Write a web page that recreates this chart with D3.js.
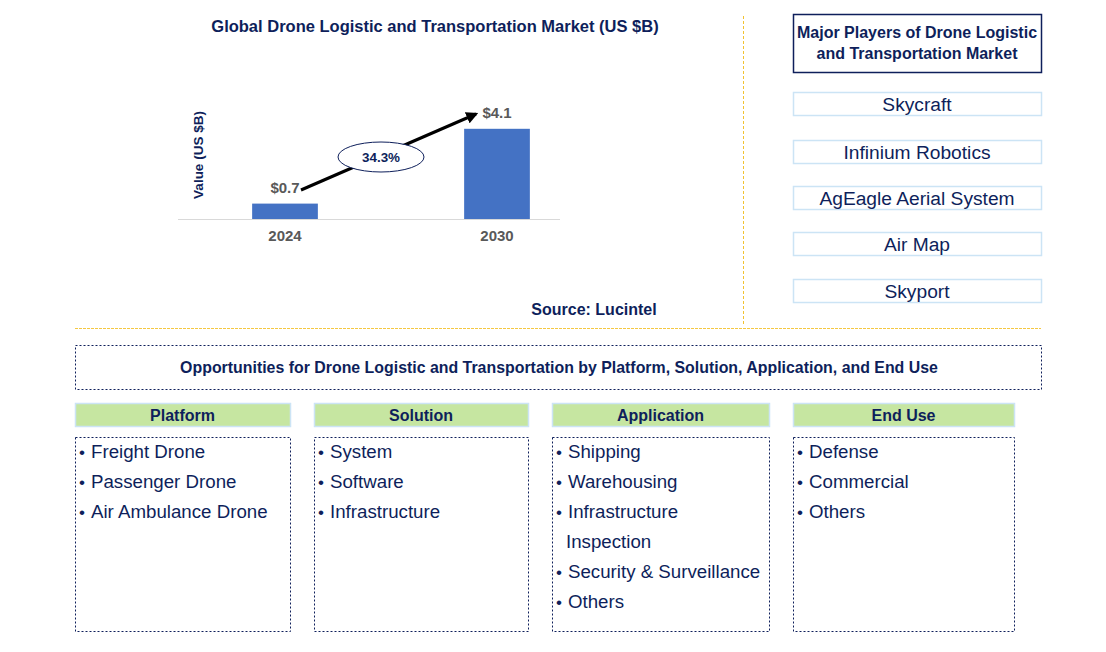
<!DOCTYPE html>
<html><head><meta charset="utf-8">
<script src="https://cdn.jsdelivr.net/npm/d3@7"></script>
<style>
html,body{margin:0;padding:0;background:#fff;}
svg{display:block;font-family:"Liberation Sans",Arial,sans-serif;}
</style></head>
<body>
<svg id="c" width="1106" height="652"></svg>
<script>
const years = ["2024", "2030"];
const values = [0.7, 4.1];
const valueLabels = ["$0.7", "$4.1"];
const cagr = "34.3%";
const players = ["Skycraft", "Infinium Robotics", "AgEagle Aerial System", "Air Map", "Skyport"];
const segments = ["Platform", "Solution", "Application", "End Use"];
const segmentItems = [
  ["Freight Drone", "Passenger Drone", "Air Ambulance Drone"],
  ["System", "Software", "Infrastructure"],
  ["Shipping", "Warehousing", ["Infrastructure", "Inspection"], "Security & Surveillance", "Others"],
  ["Defense", "Commercial", "Others"]
];

const navy = "#0E1F5B";
const gray = "#595959";
const svg = d3.select("#c");

// Title
svg.append("text").attr("x", 435).attr("y", 32).attr("text-anchor", "middle")
  .attr("font-size", 16.5).attr("font-weight", "bold").attr("fill", navy)
  .text("Global Drone Logistic and Transportation Market (US $B)");

// Chart
const x = d3.scaleBand().domain(years).range([179, 603]).paddingInner(0.69).paddingOuter(0.345);
const y = d3.scaleLinear().domain([0, 5]).range([219, 109]);

svg.append("g").selectAll("rect").data(values).join("rect")
  .attr("x", (d, i) => x(years[i])).attr("width", x.bandwidth())
  .attr("y", d => y(d)).attr("height", d => y(0) - y(d)).attr("fill", "#4472C4");

const xAxis = svg.append("g").attr("transform", `translate(0,${y(0)})`)
  .call(d3.axisBottom(x).tickSize(0).tickPadding(11));
xAxis.select(".domain").attr("stroke", "#D9D9D9").attr("d", "M178,0.5H560");
xAxis.selectAll("text").attr("font-size", 15).attr("font-weight", "bold").attr("fill", gray)
  .attr("font-family", "Liberation Sans, Arial, sans-serif");

svg.append("g").selectAll("text").data(values).join("text")
  .attr("x", (d, i) => x(years[i]) + x.bandwidth() / 2)
  .attr("y", d => y(d) - 11).attr("text-anchor", "middle")
  .attr("font-size", 15).attr("font-weight", "bold").attr("fill", gray)
  .text((d, i) => valueLabels[i]);

svg.append("text").attr("transform", "translate(203,155) rotate(-90)").attr("text-anchor", "middle")
  .attr("font-size", 13.5).attr("font-weight", "bold").attr("fill", navy).text("Value (US $B)");

// Arrow
svg.append("defs").append("marker").attr("id", "ah").attr("viewBox", "0 0 10 10")
  .attr("refX", 8).attr("refY", 5).attr("markerWidth", 4).attr("markerHeight", 4)
  .attr("orient", "auto").append("path").attr("d", "M0,0L10,5L0,10z").attr("fill", "#000");
svg.append("line").attr("x1", 301).attr("y1", 190).attr("x2", 476).attr("y2", 114)
  .attr("stroke", "#000").attr("stroke-width", 3).attr("marker-end", "url(#ah)");
svg.append("ellipse").attr("cx", 381).attr("cy", 157).attr("rx", 43).attr("ry", 15)
  .attr("fill", "#fff").attr("stroke", navy).attr("stroke-width", 1);
svg.append("text").attr("x", 381).attr("y", 162).attr("text-anchor", "middle")
  .attr("font-size", 13.4).attr("font-weight", "bold").attr("fill", navy).text(cagr);

svg.append("text").attr("x", 594).attr("y", 315).attr("text-anchor", "middle")
  .attr("font-size", 16).attr("font-weight", "bold").attr("fill", navy).text("Source: Lucintel");

// Dividers
svg.append("line").attr("x1", 743.5).attr("x2", 743.5).attr("y1", 16).attr("y2", 326)
  .attr("stroke", "#F2C230").attr("stroke-width", 1).attr("stroke-dasharray", "3,2");
svg.append("line").attr("x1", 75).attr("x2", 1041).attr("y1", 328.5).attr("y2", 328.5)
  .attr("stroke", "#F5C842").attr("stroke-width", 1).attr("stroke-dasharray", "3,1");

// Major players
svg.append("rect").attr("x", 793.5).attr("y", 14.5).attr("width", 248).attr("height", 58)
  .attr("fill", "#fff").attr("stroke", navy).attr("stroke-width", 1.5);
svg.append("text").attr("x", 917).attr("y", 38).attr("text-anchor", "middle")
  .attr("font-size", 16).attr("font-weight", "bold").attr("fill", navy).text("Major Players of Drone Logistic");
svg.append("text").attr("x", 917).attr("y", 59).attr("text-anchor", "middle")
  .attr("font-size", 16).attr("font-weight", "bold").attr("fill", navy).text("and Transportation Market");

const pc = [104, 152, 198, 244, 291];
const pg = svg.append("g").selectAll("g").data(players).join("g");
pg.append("rect").attr("x", 793.5).attr("y", (d, i) => pc[i] - 11.5).attr("width", 248).attr("height", 23)
  .attr("fill", "#fff").attr("stroke", "#CCE4F5").attr("stroke-width", 1.5);
pg.append("text").attr("x", 917).attr("y", (d, i) => pc[i] + 7).attr("text-anchor", "middle")
  .attr("font-size", 19.2).attr("fill", navy).text(d => d);

// Opportunities
svg.append("rect").attr("x", 75.5).attr("y", 345.5).attr("width", 966).attr("height", 44)
  .attr("fill", "none").attr("stroke", navy).attr("stroke-width", 1).attr("stroke-dasharray", "2,2");
svg.append("text").attr("x", 559).attr("y", 373).attr("text-anchor", "middle")
  .attr("font-size", 15.9).attr("font-weight", "bold").attr("fill", navy)
  .text("Opportunities for Drone Logistic and Transportation by Platform, Solution, Application, and End Use");

const colX = [75, 314, 552, 793];
const colW = [215, 214, 217, 221];
const sg = svg.append("g").selectAll("g").data(segments).join("g");
sg.append("rect").attr("x", (d, i) => colX[i] + 0.5).attr("y", 403.5).attr("width", (d, i) => colW[i]).attr("height", 23)
  .attr("fill", "#C6E6A1").attr("stroke", "#CCE4F5").attr("stroke-width", 1.5);
sg.append("text").attr("x", (d, i) => colX[i] + colW[i] / 2).attr("y", 420.5).attr("text-anchor", "middle")
  .attr("font-size", 16).attr("font-weight", "bold").attr("fill", navy).text(d => d);
sg.append("rect").attr("x", (d, i) => colX[i] + 0.5).attr("y", 437.5).attr("width", (d, i) => colW[i]).attr("height", 194)
  .attr("fill", "none").attr("stroke", navy).attr("stroke-width", 1).attr("stroke-dasharray", "2,2");

sg.each(function(d, i) {
  const g = d3.select(this);
  let line = 0;
  segmentItems[i].forEach(item => {
    const parts = Array.isArray(item) ? item : [item];
    parts.forEach((p, k) => {
      const yy = 458 + line * 30;
      if (k === 0) {
        g.append("text").attr("x", colX[i] + 4).attr("y", yy).attr("font-size", 17).attr("fill", navy).text("•");
        g.append("text").attr("x", colX[i] + 16).attr("y", yy).attr("font-size", 18.7).attr("fill", navy).text(p);
      } else {
        g.append("text").attr("x", colX[i] + 14).attr("y", yy).attr("font-size", 18.7).attr("fill", navy).text(p);
      }
      line++;
    });
  });
});
</script>
</body></html>
